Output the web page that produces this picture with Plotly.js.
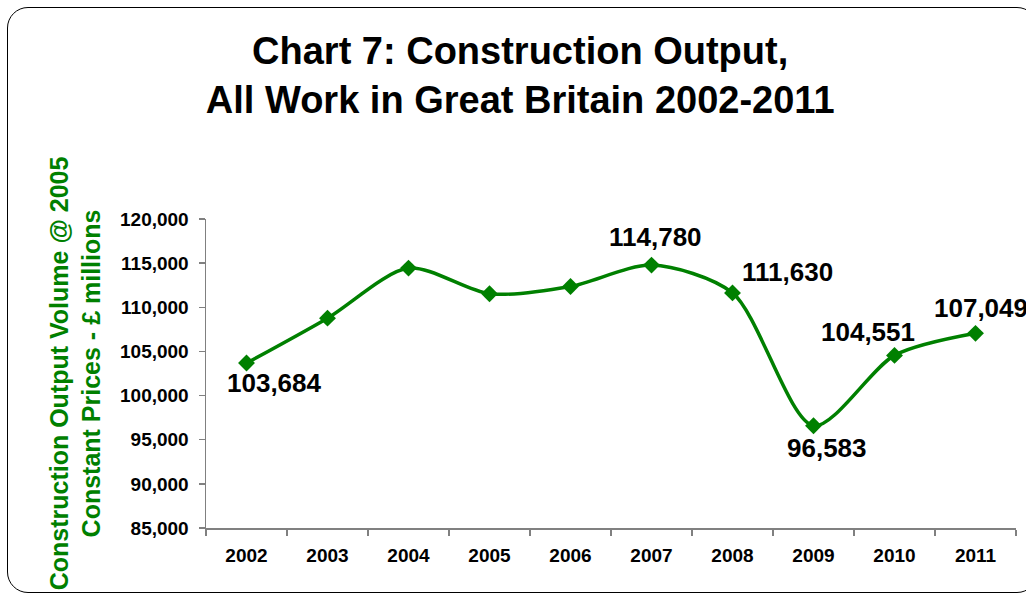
<!DOCTYPE html>
<html>
<head>
<meta charset="utf-8">
<script src="https://cdn.plot.ly/plotly-3.0.1.min.js"></script>
<style>
  html, body { margin:0; padding:0; background:#fff; overflow:hidden; }
  #wrap { position:relative; width:1026px; height:594px; overflow:hidden; }
  #chart { position:absolute; left:0; top:0; width:1026px; height:594px; }
  #frame { position:absolute; left:7px; top:7px; width:1031px; height:586px;
           border:1.5px solid #000; border-radius:21px; pointer-events:none; box-sizing:border-box; }
</style>
</head>
<body>
<div id="wrap">
  <div id="chart"></div>
  <div id="frame"></div>
</div>
<script>
const years = ['2002','2003','2004','2005','2006','2007','2008','2009','2010','2011'];
const output = [103684, 108770, 114440, 111530, 112360, 114780, 111630, 96583, 104551, 107049];
const labelledYears = ['2002','2007','2008','2009','2010','2011'];
const labelShiftX = [28, 4, 55, 13, -27, 5];
const labelShiftY = [-20, 28, 21, -22, 23, 25];

const green = '#008000';
const font = 'Liberation Sans, Arial, sans-serif';

const annotations = labelledYears.map((yr, i) => {
  const idx = years.indexOf(yr);
  const v = output[idx];
  return {
    x: idx, y: v, xref: 'x', yref: 'y',
    text: v.toLocaleString('en-GB'),
    showarrow: false,
    xshift: labelShiftX[i], yshift: labelShiftY[i],
    font: { family: font, size: 26, color: '#000', weight: 'bold' }
  };
});

const trace = {
  x: years, y: output,
  type: 'scatter', mode: 'lines+markers',
  line: { color: green, width: 3.5, shape: 'spline', smoothing: 0.8 },
  marker: { symbol: 'diamond', size: 13, color: green },
  hoverinfo: 'x+y'
};

const layout = {
  width: 1026, height: 594,
  paper_bgcolor: 'rgba(0,0,0,0)', plot_bgcolor: 'rgba(0,0,0,0)',
  margin: { l: 206, r: 10, t: 219, b: 66 },
  showlegend: false,
  font: { family: font, color: '#000' },
  title: {
    text: 'Chart 7: Construction Output,<br>All Work in Great Britain 2002-2011',
    font: { family: font, size: 38, color: '#000', weight: 'bold' },
    x: 0.507, xref: 'container', xanchor: 'center',
    y: 0.893, yref: 'container', yanchor: 'top'
  },
  xaxis: {
    type: 'category',
    range: [-0.5, years.length - 0.5],
    showline: true, linecolor: '#808080', linewidth: 1.5,
    ticks: 'outside', ticklen: 6, tickcolor: '#808080', tickwidth: 1.5,
    tickson: 'boundaries',
    showgrid: false, zeroline: false,
    tickfont: { family: font, size: 19, color: '#000', weight: 'bold' },
    tickangle: 0,
    ticklabelstandoff: 10,
    fixedrange: true
  },
  yaxis: {
    range: [85000, 120000], dtick: 5000, tick0: 85000,
    tickformat: ',d',
    showline: true, linecolor: '#808080', linewidth: 1.5,
    ticks: 'outside', ticklen: 6, tickcolor: '#808080', tickwidth: 1.5,
    showgrid: false, zeroline: false,
    tickfont: { family: font, size: 19, color: '#000', weight: 'bold' },
    ticklabelstandoff: 6,
    title: {
      text: 'Construction Output Volume @ 2005<br>Constant Prices - £ millions',
      font: { family: font, size: 25, color: green, weight: 'bold' },
      standoff: 12
    },
    fixedrange: true
  },
  annotations: annotations
};

Plotly.newPlot('chart', [trace], layout, { displayModeBar: false, staticPlot: true });
</script>
</body>
</html>
